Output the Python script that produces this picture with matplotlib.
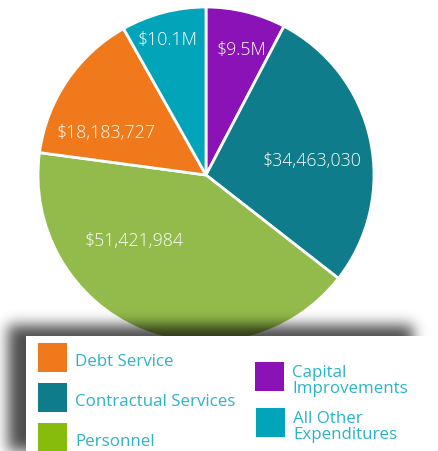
import numpy as np
import matplotlib
matplotlib.use("Agg")
import matplotlib.pyplot as plt
from matplotlib.patches import Rectangle

# ---- data ----
categories = ["Capital Improvements", "Contractual Services", "Personnel",
              "Debt Service", "All Other Expenditures"]
values = [9.5e6, 34463030, 51421984, 18183727, 10.1e6]
labels = ["$9.5M", "$34,463,030", "$51,421,984", "$18,183,727", "$10.1M"]
pie_colors = ["#8A12B6", "#0E7C8B", "#93BB4B", "#F07A1B", "#02A4BA"]

legend_order = ["Debt Service", "Contractual Services", "Personnel",
                "Capital Improvements", "All Other Expenditures"]
legend_text = ["Debt Service", "Contractual Services", "Personnel",
               "Capital\nImprovements", "All Other\nExpenditures"]
legend_colors = ["#F07A1B", "#0E7C8B", "#88BC0C", "#8A12B6", "#02A4BA"]

W, H = 439, 452
fig = plt.figure(figsize=(W / 100, H / 100), dpi=100)
ax = fig.add_axes([0, 0, 1, 1])
ax.set_xlim(0, W)
ax.set_ylim(0, H)
ax.set_aspect("equal")
ax.axis("off")

cx, cy, R = 206, H - 176, 168
wedges, _ = ax.pie(values, colors=pie_colors, startangle=90, counterclock=False,
                   center=(cx, cy), radius=R,
                   wedgeprops=dict(edgecolor="white", linewidth=2))
ax.set_xlim(0, W)
ax.set_ylim(0, H)

# label placement: (radius fraction, angle offset from wedge mid)
label_pos = [(0.78, -2), (0.64, -4), (0.58, -25), (0.65, 11), (0.84, 1)]
for w, lab, (rf, off) in zip(wedges, labels, label_pos):
    mid = np.deg2rad((w.theta1 + w.theta2) / 2 + off)
    ax.text(cx + rf * R * np.cos(mid), cy + rf * R * np.sin(mid), lab,
            ha="center", va="center", color="white", fontsize=12.8,
            family="Open Sans", fontweight=300, zorder=5)

# ---- shadow behind legend box ----
yy, xx = np.mgrid[0:H, 0:W]
mask = ((xx >= 8) & (xx <= 412) & (yy >= 326) & (yy <= H + 20)).astype(float)
def blur(a, s):
    k = np.exp(-0.5 * (np.arange(-3 * s, 3 * s + 1) / s) ** 2)
    k /= k.sum()
    a = np.apply_along_axis(lambda r: np.convolve(r, k, mode="same"), 1, a)
    a = np.apply_along_axis(lambda c: np.convolve(c, k, mode="same"), 0, a)
    return a
alpha = blur(mask, 7) * 0.7
img = np.zeros((H, W, 4))
img[..., 3] = alpha
ax.imshow(img, extent=(0, W, 0, H), origin="upper", zorder=6, interpolation="bilinear")
ax.set_xlim(0, W)
ax.set_ylim(0, H)

ax.add_patch(Rectangle((26, 0), W - 26, H - 337, facecolor="white",
                       edgecolor="none", zorder=7))

# ---- legend ----
sq = 29
leg_xy = [(38, 344), (38, 384), (38, 424), (255, 363), (256, 409)]
for (lx, ly), txt, col in zip(leg_xy, legend_text, legend_colors):
    ax.add_patch(Rectangle((lx, H - ly - sq), sq, sq, facecolor=col,
                           edgecolor="none", zorder=8))
    ax.text(lx + sq + 8, H - ly - sq / 2 - 3.5, txt, ha="left", va="center",
            color="#2AB3C9", fontsize=12.2, family="Open Sans",
            linespacing=0.92, zorder=8)

fig.savefig("out.png", dpi=100)
